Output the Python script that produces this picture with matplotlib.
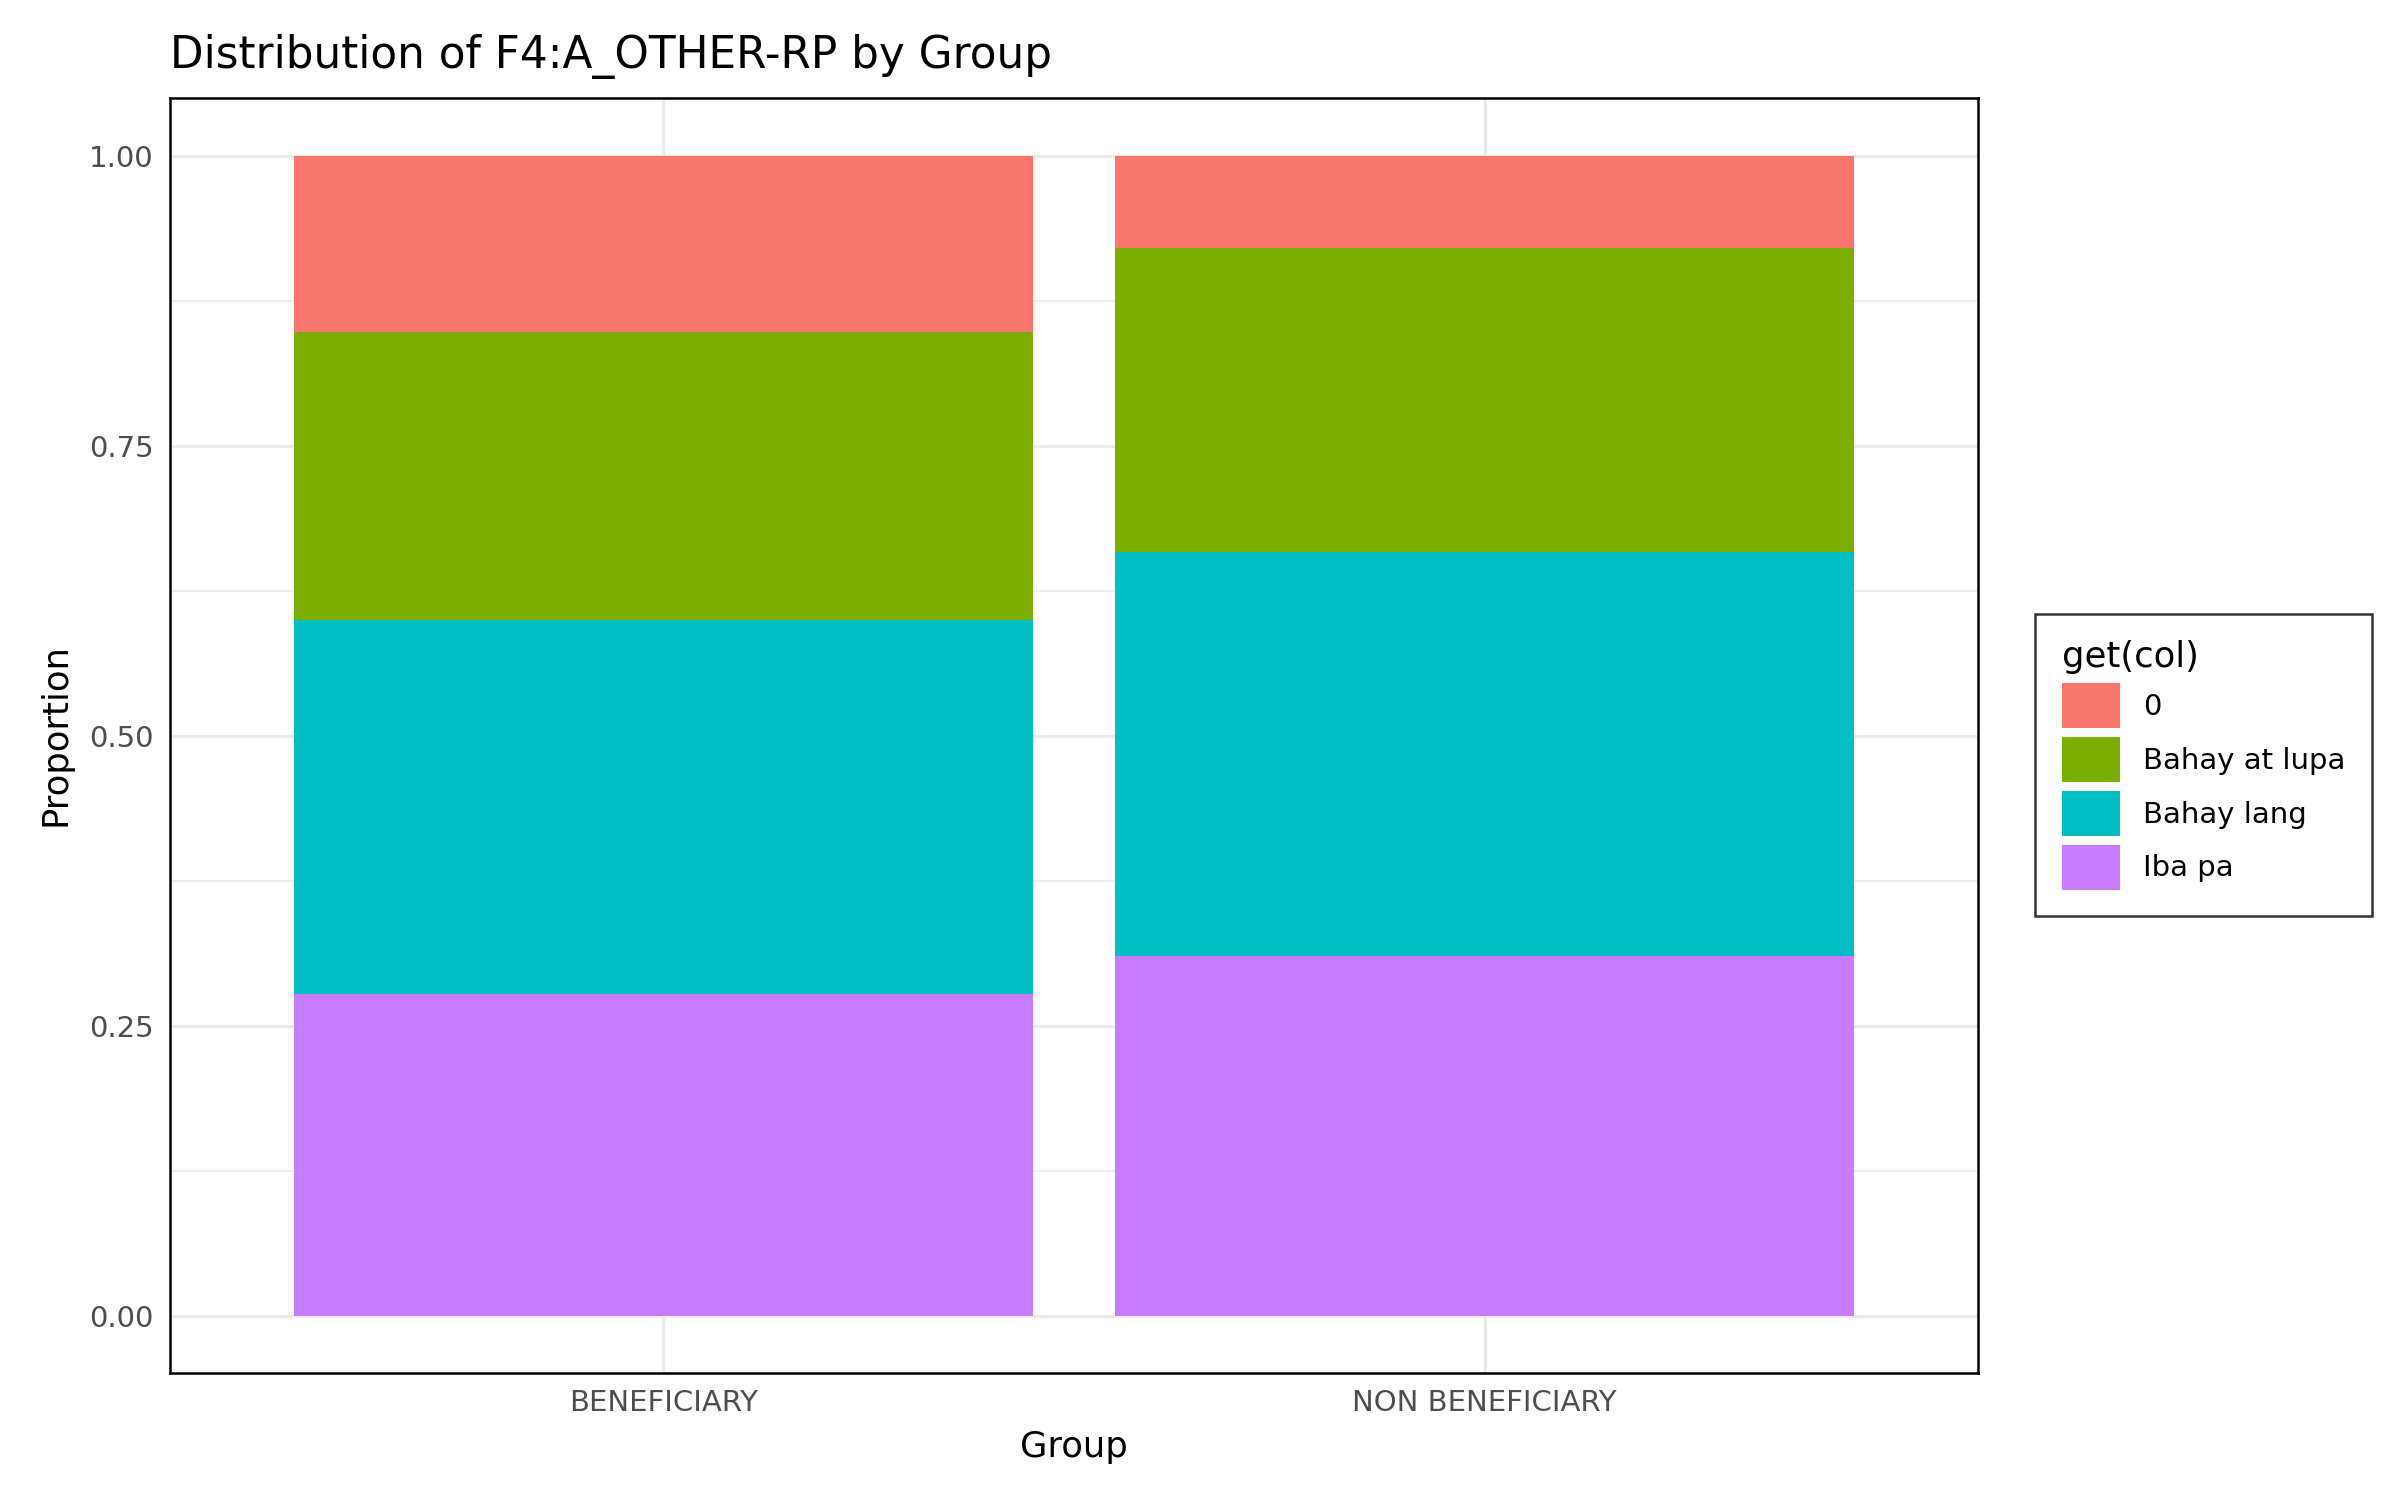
import numpy as np
import matplotlib.pyplot as plt

groups = ["BENEFICIARY", "NON BENEFICIARY"]
categories = ["0", "Bahay at lupa", "Bahay lang", "Iba pa"]
colors_list = ["#F8766D", "#7CAE00", "#00BFC4", "#C77CFF"]
# proportions per category (bottom of stack is "Iba pa")
values = {
    "Iba pa": [0.277, 0.310],
    "Bahay lang": [0.323, 0.348],
    "Bahay at lupa": [0.248, 0.262],
    "0": [0.152, 0.080],
}

fig = plt.figure(figsize=(16, 10), dpi=150)
ax = fig.add_axes([0.071, 0.085, 0.753, 0.85])
x = np.arange(1, len(groups) + 1)
bottom = np.zeros(len(groups))
for cat in ["Iba pa", "Bahay lang", "Bahay at lupa", "0"]:
    c = colors_list[categories.index(cat)]
    ax.bar(x, values[cat], 0.9, bottom=bottom, color=c, label=cat, zorder=2)
    bottom += np.array(values[cat])

ax.set_xlim(0.4, 2.6)
ax.set_ylim(-0.049, 1.05)
ax.set_xticks(x)
ax.set_xticklabels(groups)
ax.set_yticks([0, 0.25, 0.5, 0.75, 1.0])
ax.set_yticklabels(["0.00", "0.25", "0.50", "0.75", "1.00"])
ax.set_yticks([0.125, 0.375, 0.625, 0.875], minor=True)
ax.grid(True, which="major", color="#EBEBEB", lw=1.5, zorder=0)
ax.grid(True, which="minor", axis="y", color="#EBEBEB", lw=0.8, zorder=0)
ax.tick_params(axis="both", which="both", length=0, labelsize=14, colors="#4D4D4D", pad=8)
for s in ax.spines.values():
    s.set_linewidth(1.2)
    s.set_color("black")
ax.set_xlabel("Group", fontsize=17, labelpad=6)
ax.set_ylabel("Proportion", fontsize=17, labelpad=8)
ax.set_title("Distribution of F4:A_OTHER-RP by Group", fontsize=21, loc="left", x=0.0, pad=14)

handles, labels = ax.get_legend_handles_labels()
order = [labels.index(c) for c in categories]
leg = fig.legend([handles[i] for i in order], categories, title="get(col)",
                 loc="center left", bbox_to_anchor=(0.842, 0.49), fontsize=14,
                 title_fontsize=17, frameon=True, fancybox=False, edgecolor="black",
                 handlelength=2.0, handleheight=2.0, borderpad=0.9, labelspacing=0.3)
leg._legend_box.align = "left"
leg.get_frame().set_linewidth(1.2)
fig.savefig("out.png", dpi=150)
